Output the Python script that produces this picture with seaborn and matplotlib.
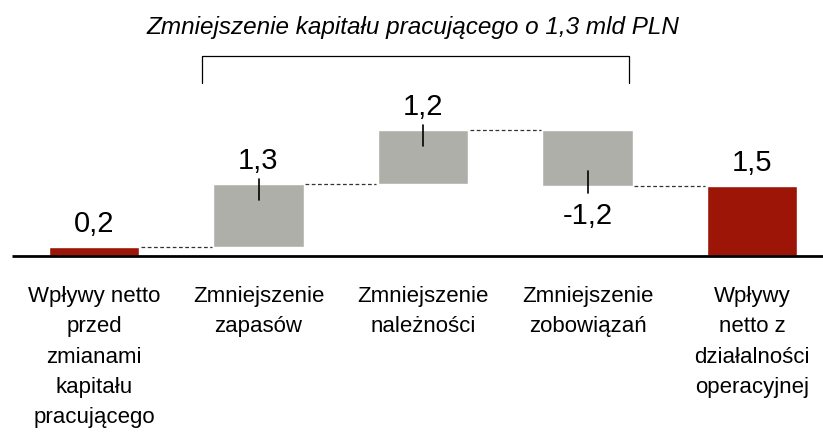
import matplotlib
matplotlib.use("Agg")
import matplotlib.pyplot as plt
import seaborn as sns
import numpy as np

# ---- Data ----
categories = [
    "Wpływy netto\nprzed\nzmianami\nkapitału\npracującego",
    "Zmniejszenie\nzapasów",
    "Zmniejszenie\nnależności",
    "Zmniejszenie\nzobowiązań",
    "Wpływy\nnetto z\ndziałalności\noperacyjnej",
]
steps = [0.2, 1.35, 1.15, -1.2]   # opening value, then working capital changes
total = 1.5
value_labels = ["0,2", "1,3", "1,2", "-1,2", "1,5"]
title = "Zmniejszenie kapitału pracującego o 1,3 mld PLN"

RED = "#9c1506"
GRAY = "#afafaa"
colors = [RED, GRAY, GRAY, GRAY, RED]

# ---- Layout (pixel geometry of the 823x434 canvas) ----
W, H = 823, 434
X0, DX = 94, 164.5      # centre of first bar, spacing
Y0, S = 256, 46.7       # baseline, px per unit


def px_x(p):
    return (p - X0) / DX


def px_y(p):
    return (Y0 - p) / S


sns.set_style("white")
plt.rcParams["font.family"] = ["Liberation Sans", "DejaVu Sans"]
plt.rcParams["text.color"] = "black"

fig = plt.figure(figsize=(W / 100, H / 100), dpi=100)
ax = fig.add_axes([0, 0, 1, 1])

ends = np.cumsum(steps)
starts = np.concatenate([[0], ends[:-1]])
starts = np.append(starts, 0)
ends = np.append(ends, total)
lows = np.minimum(starts, ends)
heights = np.abs(ends - starts)

sns.barplot(x=list(range(5)), y=heights, hue=list(range(5)), palette=colors,
            width=0.55, saturation=1, legend=False, ax=ax)
# turn plain bars into floating waterfall steps
for patch, low in zip(ax.patches, lows):
    patch.set_y(low)

ax.set_xlim(px_x(0), px_x(W))
ax.set_ylim(px_y(H), px_y(0))
ax.axis("off")

# baseline
ax.plot([px_x(12), px_x(W)], [0, 0], color="black", lw=2, solid_capstyle="butt")

# dashed connectors between bars
half = 0.55 / 2
for i in range(4):
    ax.plot([i + half + 0.01, i + 1 - half - 0.01], [ends[i], ends[i]],
            color="#333333", lw=0.9, dashes=(3, 2))

# value labels + small leader ticks
u = 1 / S
for i, lab in enumerate(value_labels):
    edge = ends[i]
    if ends[i] >= starts[i]:
        ax.text(i, edge + 15 * u, lab, ha="center", va="baseline", fontsize=21)
        if 0 < i < 4:
            ax.plot([i, i], [edge + 5 * u, edge - 16 * u], color="black", lw=1.2)
    else:
        ax.text(i, edge - 38 * u, lab, ha="center", va="baseline", fontsize=21)
        ax.plot([i, i], [edge + 15 * u, edge - 7 * u], color="black", lw=1.2)

# category labels
for i, cat in enumerate(categories):
    ax.text(i, px_y(286), cat, ha="center", va="top", fontsize=16,
            linespacing=1.58)

# bracket + title
bx0, bx1 = px_x(202), px_x(629)
by, bleg = px_y(56), px_y(83)
ax.plot([bx0, bx0, bx1, bx1], [bleg, by, by, bleg], color="black", lw=0.9)
ax.text((bx0 + bx1) / 2 - 3 / DX, px_y(34), title, ha="center", va="baseline",
        fontsize=17.5, style="italic")

fig.savefig("out.png", dpi=100)
